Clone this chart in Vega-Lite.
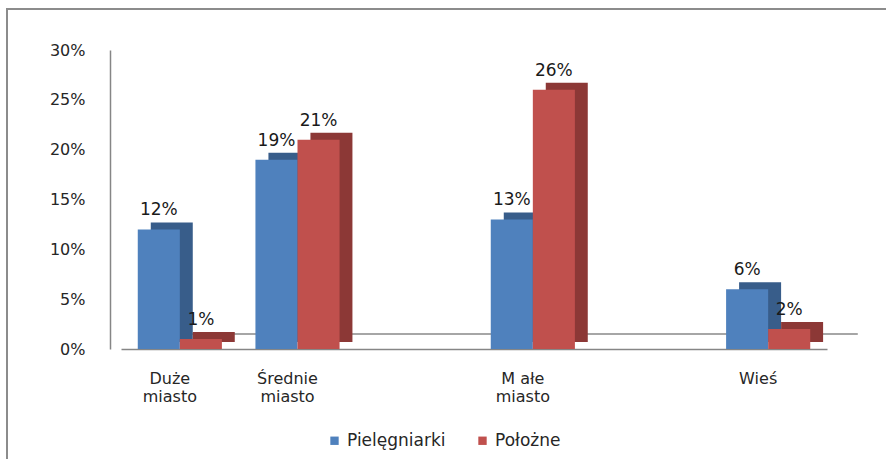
{
  "$schema": "https://vega.github.io/schema/vega-lite/v6.json",
  "width": 900,
  "height": 470,
  "autosize": "none",
  "padding": {"left": 7, "top": 9, "right": 0, "bottom": 0},
  "background": "white",
  "config": {
    "view": {"stroke": "#8c8c8c", "strokeWidth": 2},
    "font": "DejaVu Sans"
  },
  "data": {
    "values": [
      {"place": "Duże miasto", "group": "Pielęgniarki", "value": 0.12},
      {"place": "Duże miasto", "group": "Położne", "value": 0.01},
      {"place": "Średnie miasto", "group": "Pielęgniarki", "value": 0.19},
      {"place": "Średnie miasto", "group": "Położne", "value": 0.21},
      {"place": "M ałe miasto", "group": "Pielęgniarki", "value": 0.13},
      {"place": "M ałe miasto", "group": "Położne", "value": 0.26},
      {"place": "Wieś", "group": "Pielęgniarki", "value": 0.06},
      {"place": "Wieś", "group": "Położne", "value": 0.02}
    ]
  },
  "encoding": {
    "x": {
      "field": "place",
      "type": "nominal",
      "sort": null,
      "scale": {
        "domain": ["Duże miasto", "Średnie miasto", "e1", "M ałe miasto", "e2", "Wieś"],
        "range": [114, 820],
        "paddingInner": 0.285,
        "paddingOuter": 0.1425
      },
      "axis": {
        "orient": "bottom",
        "offset": -130,
        "title": null,
        "ticks": false,
        "domainColor": "#868686",
        "domainWidth": 1.5,
        "labelAngle": 0,
        "labelPadding": 21,
        "labelOffset": -10,
        "labelFontSize": 16,
        "labelColor": "#262626",
        "labelLineHeight": 18,
        "labelExpr": "substring(datum.value,0,1) == 'e' && length(datum.value) == 2 ? '' : (indexof(datum.value, ' miasto') >= 0 ? [replace(datum.value, ' miasto', ''), 'miasto'] : datum.value)"
      }
    },
    "y": {
      "field": "value",
      "type": "quantitative",
      "scale": {"domain": [0, 0.3], "range": [340, 41], "nice": false},
      "axis": {
        "orient": "left",
        "offset": -103,
        "title": null,
        "ticks": false,
        "grid": false,
        "values": [0, 0.05, 0.1, 0.15, 0.2, 0.25, 0.3],
        "format": ".0%",
        "domainColor": "#868686",
        "domainWidth": 1.5,
        "labelPadding": 25,
        "labelFontSize": 16,
        "labelColor": "#262626"
      }
    }
  },
  "layer": [
    {
      "mark": {"type": "rule", "color": "#a6a6a6", "strokeWidth": 1.5, "xOffset": 32, "x2Offset": 47},
      "encoding": {
        "y": {"datum": 0.015},
        "x": {"datum": "Duże miasto", "bandPosition": 0},
        "x2": {"datum": "Wieś", "bandPosition": 1}
      }
    },
    {
      "mark": {"type": "bar", "yOffset": -7},
      "encoding": {
        "xOffset": {
          "field": "group",
          "type": "nominal",
          "sort": ["Pielęgniarki", "Położne"],
          "scale": {"paddingInner": 0, "paddingOuter": 0, "range": [13, 97]}
        },
        "color": {
          "condition": {"test": "datum.group == 'Pielęgniarki'", "value": "#385D8A"},
          "value": "#8C3836"
        }
      }
    },
    {
      "layer": [
        {
          "mark": {"type": "bar"},
          "encoding": {
            "color": {
              "field": "group",
              "type": "nominal",
              "sort": ["Pielęgniarki", "Położne"],
              "scale": {"domain": ["Pielęgniarki", "Położne"], "range": ["#4F81BD", "#C0504D"]},
              "legend": {
                "orient": "none",
                "legendX": 319,
                "legendY": 423,
                "direction": "horizontal",
                "title": null,
                "symbolType": "square",
                "symbolSize": 70,
                "symbolStrokeWidth": 0,
                "labelFontSize": 17,
                "labelColor": "#262626",
                "columnPadding": 28
              }
            }
          }
        },
        {
          "mark": {"type": "text", "baseline": "bottom", "dy": -10, "fontSize": 17, "color": "#1a1a1a"},
          "encoding": {
            "text": {"field": "value", "type": "quantitative", "format": ".0%"}
          }
        }
      ],
      "encoding": {
        "xOffset": {
          "field": "group",
          "type": "nominal",
          "sort": ["Pielęgniarki", "Położne"],
          "scale": {"paddingInner": 0, "paddingOuter": 0}
        }
      }
    }
  ],
  "resolve": {"scale": {"xOffset": "independent"}}
}
